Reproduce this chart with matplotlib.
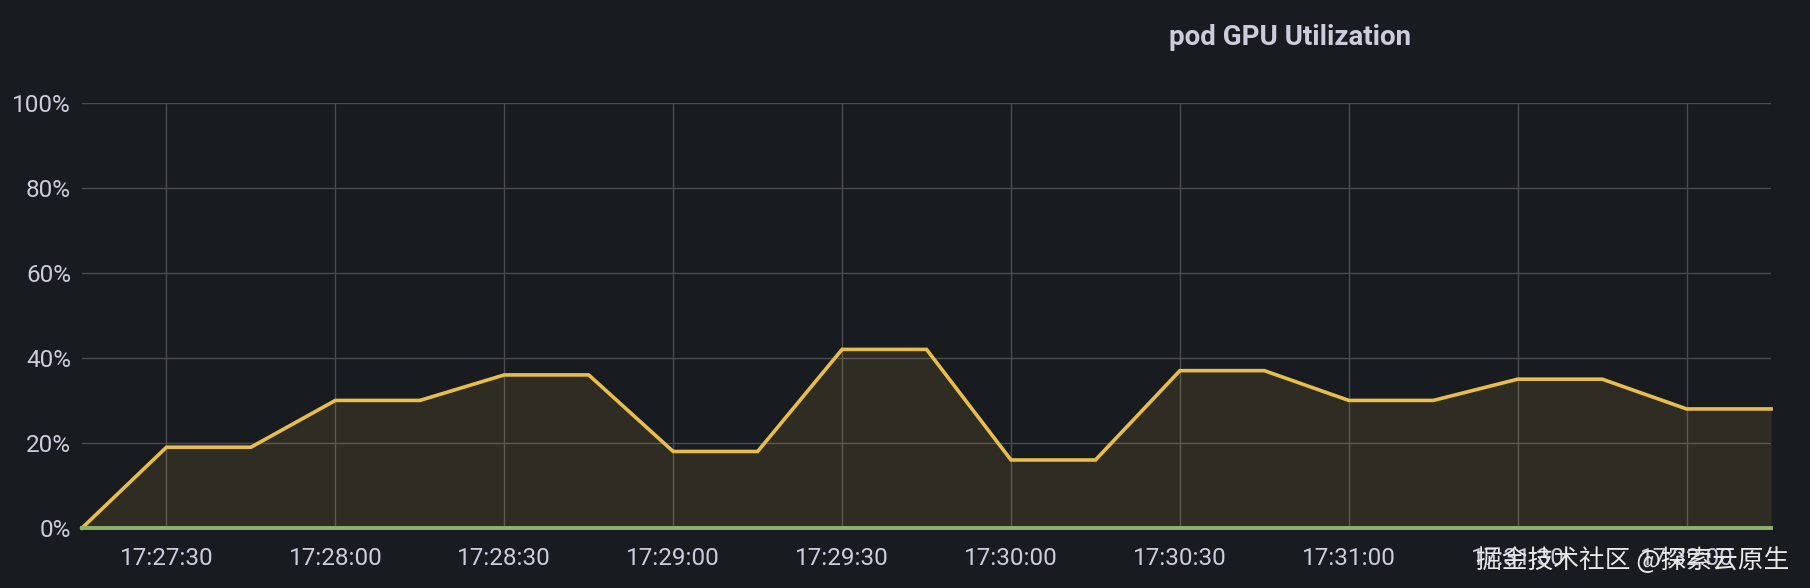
import matplotlib
matplotlib.use("Agg")
import matplotlib.pyplot as plt
import matplotlib.dates as mdates
import pandas as pd

# data (15 s steps)
times = ["17:27:15", "17:27:30", "17:27:45", "17:28:00", "17:28:15", "17:28:30",
         "17:28:45", "17:29:00", "17:29:15", "17:29:30", "17:29:45", "17:30:00",
         "17:30:15", "17:30:30", "17:30:45", "17:31:00", "17:31:15", "17:31:30",
         "17:31:45", "17:32:00", "17:32:15"]
gpu_util = [0, 19, 19, 30, 30, 36, 36, 18, 18, 42, 42, 16, 16, 37, 37, 30, 30, 35, 35, 28, 28]
baseline = [0] * len(times)
y_ticks = [0, 20, 40, 60, 80, 100]

title = "pod GPU Utilization"
watermark = "掘金技术社区 @探索云原生"

bg = "#181b1f"
txt = "#ccccdc"
grid_c = "#4a4c51"
yellow = "#e8bd4c"
green = "#8ab56c"

x = pd.to_datetime(["2024-01-01 " + t for t in times])

fig = plt.figure(figsize=(18.10, 5.88), dpi=100, facecolor=bg)
ax = fig.add_axes([0.0453, 0.102, 0.9332, 0.7233])
ax.set_facecolor(bg)

ax.fill_between(x, gpu_util, 0, color=yellow, alpha=0.11, linewidth=0, zorder=2)
ax.plot(x, gpu_util, color=yellow, linewidth=2.6, zorder=3, clip_on=False, solid_joinstyle="miter")
ax.plot(x, baseline, color=green, linewidth=2.8, zorder=4, clip_on=False)

ax.set_xlim(x[0], x[-1])
ax.set_ylim(0, 100)
ax.set_yticks(y_ticks)
ax.set_yticklabels([f"{v}%" for v in y_ticks])

ax.xaxis.set_major_locator(mdates.SecondLocator(bysecond=[0, 30]))
ax.xaxis.set_major_formatter(mdates.DateFormatter("%H:%M:%S"))

ax.grid(True, color=grid_c, linewidth=1.0, zorder=1)
for s in ax.spines.values():
    s.set_visible(False)
ax.tick_params(axis="both", length=0, colors=txt, labelsize=17.5)
ax.tick_params(axis="x", pad=14)
ax.tick_params(axis="y", pad=8)
for lab in ax.get_xticklabels() + ax.get_yticklabels():
    lab.set_family("Roboto")

fig.text(0.7125, 0.937, title, ha="center", va="center", color=txt,
         fontsize=20, fontweight="bold", family="Roboto")

fig.text(0.9885, 0.047, watermark, ha="right", va="center", color="#e8e8e8",
         fontsize=18.5, family=["Noto Sans CJK SC", "DejaVu Sans"], zorder=10)

fig.savefig("out.png", dpi=100, facecolor=bg)
